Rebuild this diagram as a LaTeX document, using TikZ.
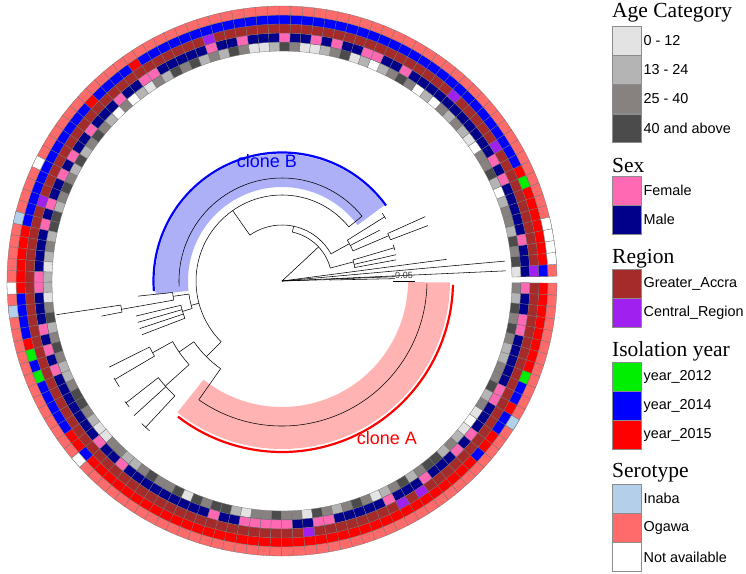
\documentclass[tikz,border=0pt]{standalone}
\usepackage{fontspec}
\setmainfont{Liberation Serif}
\setsansfont{Liberation Sans}
\usepackage{tikz}
\usetikzlibrary{positioning}
\definecolor{ag0}{HTML}{FFFFFF}
\definecolor{ag1}{HTML}{E3E3E3}
\definecolor{ag2}{HTML}{B4B4B4}
\definecolor{ag3}{HTML}{878180}
\definecolor{ag4}{HTML}{4B4B4B}
\definecolor{sxF}{HTML}{FF69B4}
\definecolor{sxM}{HTML}{00008B}
\definecolor{rgG}{HTML}{A52A2A}
\definecolor{rgC}{HTML}{A020F0}
\definecolor{yr2}{HTML}{00EE00}
\definecolor{yr4}{HTML}{0000FF}
\definecolor{yr5}{HTML}{FF0000}
\definecolor{svI}{HTML}{B3CFEA}
\definecolor{svO}{HTML}{FF6A6A}
\definecolor{svN}{HTML}{FFFFFF}
\definecolor{cBband}{HTML}{ADB0F6}
\definecolor{cAband}{HTML}{FFB3B3}
\tikzset{
  cellbox/.style  = {draw=black!55, line width=0.3pt},
  tree/.style     = {draw=black, line width=0.55pt},
  legbox/.style   = {draw=black!45, line width=0.4pt, minimum width=29pt,
                     minimum height=28.8pt, inner sep=0pt, anchor=north west},
  legtitle/.style = {font=\fontsize{21.5}{24}\selectfont\rmfamily,
                     anchor=base west, inner sep=0pt},
  leglab/.style   = {font=\fontsize{14.4}{16}\selectfont\sffamily, inner sep=1pt},
  clonelab/.style = {font=\fontsize{18}{20}\selectfont\sffamily, anchor=base, inner sep=0pt},
}
% one cell of ring #1 at slot #2
\newcommand{\ringcell}[3]{%
  \pgfmathsetmacro{\aS}{1+2.49*#2}%
  \pgfmathsetmacro{\aE}{\aS+2.49}%
  \pgfmathsetmacro{\rI}{230+9*#1}%
  \pgfmathsetmacro{\rO}{\rI+9}%
  \draw[cellbox, fill=#3] (\aS:\rI) arc[start angle=\aS, end angle=\aE, radius=\rI]
    -- (\aE:\rO) arc[start angle=\aE, end angle=\aS, radius=\rO] -- cycle;}
% tree pieces: radial at angle #1 from r #2 to r #3, arc at r #1 from #2 to #3
\newcommand{\radl}[3]{\draw[tree] (#1:#2) -- (#1:#3);}
\newcommand{\arcl}[3]{\draw[tree] (#2:#1) arc[start angle=#2, end angle=#3, radius=#1];}

\begin{document}
\begin{tikzpicture}[x=1pt, y=1pt]
  \useasboundingbox (0,0) rectangle (746,-573);
  \fill[white] (0,0) rectangle (746,-573);

  \begin{scope}[shift={(282,-281)}]
    % clade highlights
    \fill[cBband] (36.5:94) arc[start angle=36.5, end angle=186, radius=94]
      -- (186:127) arc[start angle=186, end angle=36.5, radius=127] -- cycle;
    \draw[blue, line width=2.2pt] (36:128.5) arc[start angle=36, end angle=184.5, radius=128.5];
    \fill[cAband] (231.5:126) arc[start angle=231.5, end angle=359.5, radius=126]
      -- (359.5:168) arc[start angle=359.5, end angle=231.5, radius=168] -- cycle;
    \draw[red, line width=2.2pt] (232.5:171) arc[start angle=232.5, end angle=358.7, radius=171];

    % tree
    \radl{2.6}{0}{224}
    \radl{5.1}{0}{224}
    \radl{7.5}{0}{166}
    \radl{1.7}{0}{48} \arcl{48}{1.2}{2.2}
    \radl{1.2}{48}{113} \radl{2.2}{48}{113}
    \radl{43}{0}{50} \arcl{50}{15}{78}
    \radl{78}{50}{56} \arcl{56}{29}{125}
    \radl{125}{56}{86} \arcl{86}{39}{225}
    \radl{39}{86}{103} \arcl{103}{39}{183}
    \radl{29}{56}{77} \arcl{77}{23}{32}
    \radl{32}{77}{121} \arcl{121}{31}{34}
    \radl{27.5}{77}{110}
    \radl{23}{77}{116} \arcl{116}{20.8}{24.2}
    \radl{20.8}{116}{156} \radl{24.2}{116}{157}
    \radl{15}{50}{74} \arcl{74}{10.5}{16.5}
    \radl{16.5}{74}{117} \arcl{117}{15.3}{18}
    \radl{13}{74}{117}
    \radl{10.5}{74}{116}
    \radl{195}{86}{94} \arcl{94}{188}{197}
    \radl{188}{94}{110} \arcl{110}{186}{190}
    \radl{186}{110}{145}
    \radl{190}{110}{163} \arcl{163}{188.5}{191}
    \radl{188.5}{163}{228} \radl{191}{163}{184}
    \radl{197}{94}{104} \arcl{104}{193.5}{201}
    \foreach \a in {193.5,196,198.5,201} {\radl{\a}{104}{150}}
    \radl{225}{86}{107} \arcl{107}{214.6}{235}
    \radl{235}{107}{145} \arcl{145}{235}{359}
    \radl{214.6}{107}{125} \arcl{125}{209}{222}
    \radl{209}{125}{148} \arcl{148}{206.5}{210.5}
    \radl{206.5}{148}{193}
    \radl{210.5}{148}{194} \arcl{194}{210}{213}
    \radl{222}{125}{157} \arcl{157}{218}{227}
    \radl{218}{157}{198} \arcl{198}{217.5}{219.5}
    \radl{222.3}{157}{200}
    \radl{227}{157}{200} \arcl{200}{225.5}{228.5}

    % ring 0: age
    \foreach \v [count=\i from 0] in {1,4,3,4,2,3,3,2,0,2,4,3,3,0,1,2,3,2,3,0,2,0,3,4,3,2,0,2,1,4,3,2,1,1,3,4,
        2,1,1,3,4,2,3,2,4,3,4,2,3,1,2,0,3,0,2,3,4,3,2,4,2,3,4,3,2,4,4,2,3,2,1,2,
        2,1,3,4,2,3,4,3,2,2,3,4,4,3,2,1,1,3,3,2,2,3,4,3,3,4,1,4,3,4,4,2,1,3,3,4,
        3,3,1,4,3,2,3,4,3,1,2,3,4,2,3,4,4,2,3,2,1,0,1,3,2,4,3,3,2,2,3,4,3,4,2,3}
      {\ringcell{0}{\i}{ag\v}}
    % ring 1: sex
    \foreach \i in {0,...,143} {\ringcell{1}{\i}{sxM}}
    \foreach \i in {3,9,11,23,26,27,30,32,35,39,42,48,49,52,56,59,61,64,66,71,72,76,78,80,
        88,91,101,104,105,106,107,108,111,112,118,122,126,128,132,133,139,140,143}
      {\ringcell{1}{\i}{sxF}}
    % ring 2: region
    \foreach \i in {0,...,143} {\ringcell{2}{\i}{rgG}}
    \foreach \i in {0,12,18,42,64,110,119,121} {\ringcell{2}{\i}{rgC}}
    % ring 3: isolation year
    \foreach \i in {0,...,143} {\ringcell{3}{\i}{yr5}}
    \foreach \a/\b in {0/0,10/48,50/53,55/66,73/76,79/79,81/85,88/88,127/127,130/131,133/134}
      {\foreach \i in {\a,...,\b} {\ringcell{3}{\i}{yr4}}}
    \foreach \i in {8,78,80,135} {\ringcell{3}{\i}{yr2}}
    % ring 4: serotype
    \foreach \i in {0,...,143} {\ringcell{4}{\i}{svO}}
    \foreach \i in {1,2,3,4,61,72,88} {\ringcell{4}{\i}{svN}}
    \foreach \i in {66,74,131} {\ringcell{4}{\i}{svI}}
  \end{scope}

  \node[clonelab, text=blue] (lblB) at (267,-167) {clone B};
  \node[clonelab, text=red] (lblA) at (387,-444) {clone A};
  \node[font=\fontsize{9}{10}\selectfont\sffamily, text=black!80, anchor=base,
        inner sep=0pt] (sbar) at (404,-278.5) {0.05};
  \draw[line width=0.5pt] ([xshift=-2pt, yshift=-2pt]sbar.south west)
    -- ([xshift=2pt, yshift=-2pt]sbar.south east);

  % legend
  \node[legtitle] (ttlAge) at (612,-17) {Age Category};
  \node[legbox, fill=ag1] (age1) at (612,-26) {};
  \node[legbox, fill=ag2, below=0pt of age1] (age2) {};
  \node[legbox, fill=ag3, below=0pt of age2] (age3) {};
  \node[legbox, fill=ag4, below=0pt of age3] (age4) {};
  \node[leglab, right=1pt of age1] {0 - 12};
  \node[leglab, right=1pt of age2] {13 - 24};
  \node[leglab, right=1pt of age3] {25 - 40};
  \node[leglab, right=1pt of age4] {40 and above};

  \node[legtitle] (ttlSex) at (612,-172) {Sex};
  \node[legbox, fill=sxF] (sex1) at (612,-176) {};
  \node[legbox, fill=sxM, below=0pt of sex1] (sex2) {};
  \node[leglab, right=1pt of sex1] {Female};
  \node[leglab, right=1pt of sex2] {Male};

  \node[legtitle] (ttlReg) at (612,-263) {Region};
  \node[legbox, fill=rgG] (reg1) at (612,-269) {};
  \node[legbox, fill=rgC, below=0pt of reg1] (reg2) {};
  \node[leglab, right=1pt of reg1] {Greater\_Accra};
  \node[leglab, right=1pt of reg2] {Central\_Region};

  \node[legtitle] (ttlYear) at (612,-356) {Isolation year};
  \node[legbox, fill=yr2] (year1) at (612,-362) {};
  \node[legbox, fill=yr4, below=0pt of year1] (year2) {};
  \node[legbox, fill=yr5, below=0pt of year2] (year3) {};
  \node[leglab, right=1pt of year1] {year\_2012};
  \node[leglab, right=1pt of year2] {year\_2014};
  \node[leglab, right=1pt of year3] {year\_2015};

  \node[legtitle] (ttlSero) at (612,-477) {Serotype};
  \node[legbox, fill=svI] (sero1) at (612,-484) {};
  \node[legbox, fill=svO, below=0pt of sero1] (sero2) {};
  \node[legbox, fill=svN, below=0pt of sero2] (sero3) {};
  \node[leglab, right=1pt of sero1] {Inaba};
  \node[leglab, right=1pt of sero2] {Ogawa};
  \node[leglab, right=1pt of sero3] {Not available};
\end{tikzpicture}
\end{document}
